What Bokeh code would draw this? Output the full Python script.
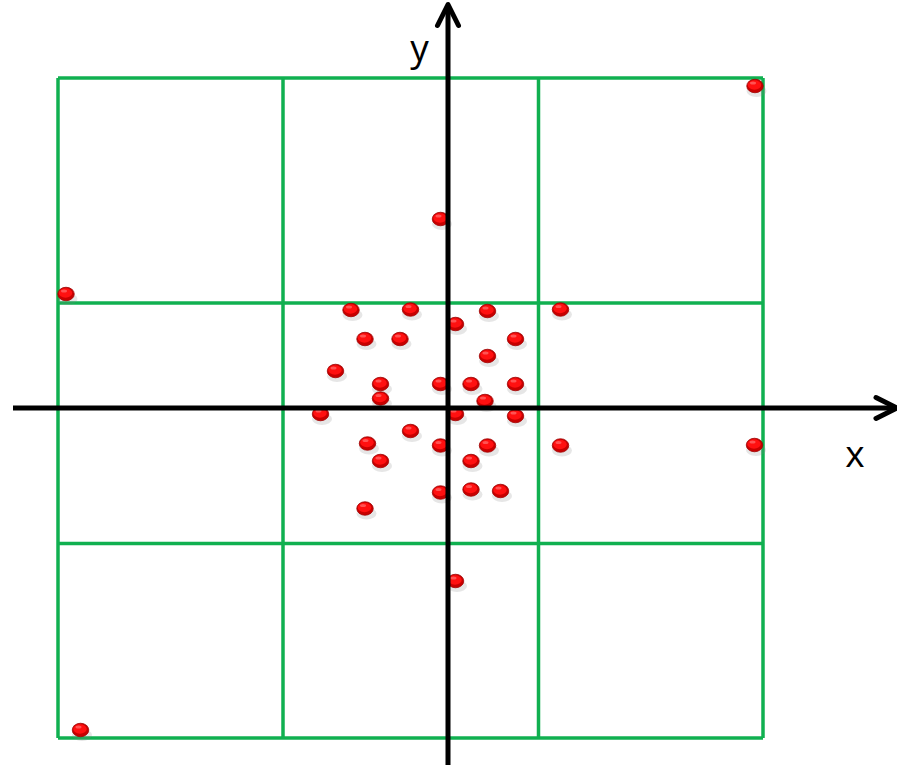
from bokeh.plotting import figure
from bokeh.models import ColumnDataSource, Arrow, OpenHead, Range1d
from bokeh.transform import dodge
from bokeh.core.properties import value
from bokeh.embed import file_html
from bokeh.resources import INLINE

# ---- data (pixel-scale units, origin at the axes crossing) ----
pts_x = [-97, -37.5, 39.5, 112.5, 7.5, -83, -48, 67.5, 39.5, -112.5,
         -67.5, -7.5, 23, 67.5, -67.5, 37, -127.5, 7.5, 67.5, -37.5,
         -80.5, -7.5, 39.5, 112.5, -67.5, 23, -7.5, 23, 52.5, -83,
         307, -7.5, -382, 306.5, 7.5, -367.5]
pts_y = [98, 98.5, 97, 98.5, 84, 69, 69, 69, 52, 37,
         24, 24, 24, 24, 9.5, 7, -6, -6, -8, -23,
         -35.5, -37.5, -37.5, -37.5, -53, -53, -84.5, -81.5, -83, -100.5,
         322, 189, 114, -37, -173, -322]

grid_x = [-390, -165, 90.5, 315]
grid_y = [330, 105, -135.5, -330]

x_axis_span = [-435, 449]
y_axis_span = [-362, 403.5]

x_label = "x"
y_label = "y"
x_label_pos = [407, -44]
y_label_pos = [-28.5, 362]

GREEN = "#10b050"

p = figure(width=897, height=765, output_backend="svg", toolbar_location=None,
           x_range=Range1d(-447.5, 449.5), y_range=Range1d(-357.5, 407.5),
           min_border=0)
p.axis.visible = False
p.grid.visible = False
p.outline_line_color = None
p.background_fill_color = "white"

# axes with open arrow heads
p.add_layout(Arrow(end=OpenHead(size=21, line_width=5, line_color="black", line_cap="round",
                                line_join="round"),
                   x_start=x_axis_span[0], y_start=0, x_end=x_axis_span[1], y_end=0,
                   line_width=5, line_color="black"))
p.add_layout(Arrow(end=OpenHead(size=21, line_width=5, line_color="black", line_cap="round",
                                line_join="round"),
                   x_start=0, y_start=y_axis_span[0], x_end=0, y_end=y_axis_span[1],
                   line_width=5, line_color="black"))

# green grid
vx0 = grid_x
vy0 = [min(grid_y)] * len(grid_x)
vy1 = [max(grid_y)] * len(grid_x)
p.segment(x0=vx0, y0=vy0, x1=vx0, y1=vy1, line_color=GREEN, line_width=3.5)
hy = grid_y
hx0 = [min(grid_x)] * len(grid_y)
hx1 = [max(grid_x)] * len(grid_y)
p.segment(x0=hx0, y0=hy, x1=hx1, y1=hy, line_color=GREEN, line_width=3.5)

# points
src = ColumnDataSource(dict(x=pts_x, y=pts_y))
p.ellipse(x=dodge("x", 1.5, range=p.x_range), y=dodge("y", -5, range=p.y_range), source=src,
          width=20, height=12, width_units="screen", height_units="screen",
          fill_color="#808080", fill_alpha=0.2, line_color=None)
p.ellipse(x="x", y="y", source=src, width=16.5, height=13.5,
          width_units="screen", height_units="screen",
          fill_color="#c80000", line_color="#a00000", line_width=0.8)
p.ellipse(x=dodge("x", -0.5, range=p.x_range), y=dodge("y", 1, range=p.y_range), source=src,
          width=13.5, height=9.5, width_units="screen", height_units="screen",
          fill_color="#ff1010", line_color=None)
p.ellipse(x=dodge("x", -2, range=p.x_range), y=dodge("y", 3, range=p.y_range), source=src,
          width=6, height=3, width_units="screen", height_units="screen",
          fill_color="#ff8080", fill_alpha=0.6, line_color=None)

# labels
p.text(x=[x_label_pos[0]], y=[x_label_pos[1]], text=[x_label], text_font=value("Open Sans"),
       text_font_size="37px", text_align="center", text_baseline="alphabetic",
       text_color="black")
p.text(x=[y_label_pos[0]], y=[y_label_pos[1]], text=[y_label], text_font=value("Open Sans"),
       text_font_size="37px", text_align="center", text_baseline="alphabetic",
       text_color="black")

open("out.html", "w").write(file_html(p, INLINE))
